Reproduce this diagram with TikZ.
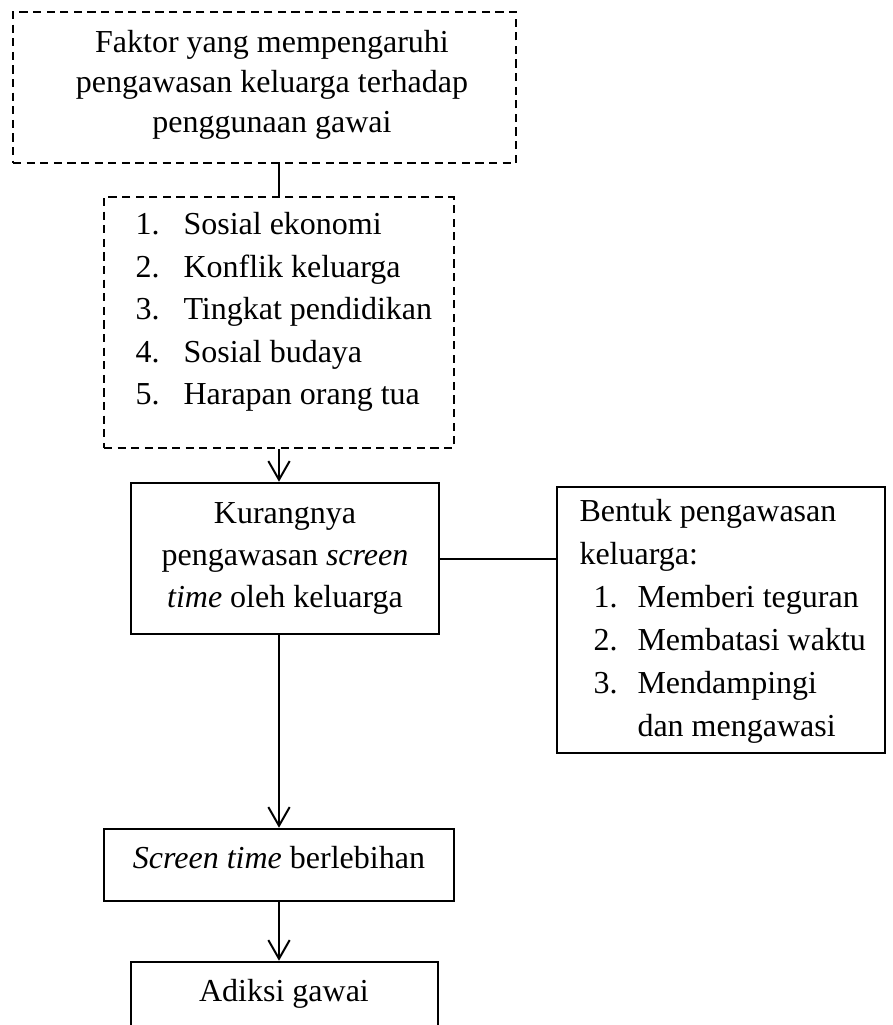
\documentclass[tikz,border=0pt]{standalone}
\usepackage{fontspec}
\setmainfont{Liberation Serif}
\usetikzlibrary{arrows.meta,fit}
\begin{document}
\begin{tikzpicture}[x=0.375pt,y=-0.375pt,
  dbox/.style={draw, dash pattern=on 3.1pt off 2pt, line width=0.95pt, inner sep=0pt},
  sbox/.style={draw, line width=0.95pt, inner sep=0pt},
  txt/.style={anchor=base, inner sep=0pt, font=\fontsize{12}{14}\selectfont},
  ltxt/.style={txt, anchor=base west},
  link/.style={line width=0.75pt},
  arr/.style={link, -{Straight Barb[length=7pt,width=8pt,line width=0.75pt]}}]
\useasboundingbox (0,0) rectangle (893,1025);
\clip (0,0) rectangle (893,1025);
% boxes
\node[dbox, fit={(13,12) (516,163)}] (top) {};
\node[dbox, fit={(104,197) (454,448)}] (list) {};
\node[sbox, fit={(131,483) (439,634)}] (kur) {};
\node[sbox, fit={(557,487) (885,753)}] (form) {};
\node[sbox, fit={(104,829) (454,901)}] (scr) {};
\node[sbox, fit={(131,962) (438,1080)}] (adk) {};
\coordinate (sp) at (279,0);
% texts
\node[txt] (t1) at (272,52) {Faktor yang mempengaruhi};
\node[txt] (t2) at (272,92) {pengawasan keluarga terhadap};
\node[txt] (t3) at (272,132) {penggunaan gawai};
\node[ltxt] (n1) at (135,234) {1.};
\node[ltxt] (l1) at (183,234) {Sosial ekonomi};
\node[ltxt] (n2) at (135,277) {2.};
\node[ltxt] (l2) at (183,277) {Konflik keluarga};
\node[ltxt] (n3) at (135,319) {3.};
\node[ltxt] (l3) at (183,319) {Tingkat pendidikan};
\node[ltxt] (n4) at (135,362) {4.};
\node[ltxt] (l4) at (183,362) {Sosial budaya};
\node[ltxt] (n5) at (135,404) {5.};
\node[ltxt] (l5) at (183,404) {Harapan orang tua};
\node[txt] (k1) at (285,523) {Kurangnya};
\node[txt] (k2) at (285,565) {pengawasan \textit{screen}};
\node[txt] (k3) at (285,607) {\textit{time} oleh keluarga};
\node[ltxt] (f1) at (579,521) {Bentuk pengawasan};
\node[ltxt] (f2) at (579,564) {keluarga:};
\node[ltxt] (fn1) at (593,607) {1.};
\node[ltxt] (fl1) at (637,607) {Memberi teguran};
\node[ltxt] (fn2) at (593,650) {2.};
\node[ltxt] (fl2) at (637,650) {Membatasi waktu};
\node[ltxt] (fn3) at (593,693) {3.};
\node[ltxt] (fl3) at (637,693) {Mendampingi};
\node[ltxt] (fl4) at (637,736) {dan mengawasi};
\node[txt] (s1) at (279,868) {\textit{Screen time} berlebihan};
\node[txt] (a1) at (284,1001) {Adiksi gawai};
% connectors
\draw[link] (top.south -| sp) -- (list.north -| sp);
\draw[arr] (list.south -| sp) -- (kur.north -| sp);
\draw[link] (kur.east) -- (kur.east -| form.west);
\draw[arr] (kur.south -| sp) -- (scr.north -| sp);
\draw[arr] (scr.south -| sp) -- (adk.north -| sp);
\end{tikzpicture}
\end{document}
